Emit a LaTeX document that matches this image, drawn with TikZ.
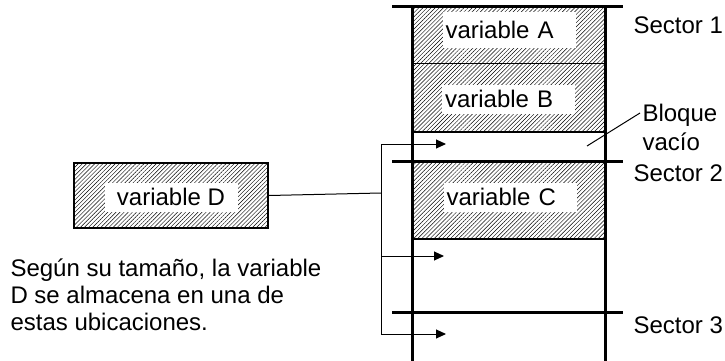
\documentclass[tikz,border=0pt]{standalone}
\usepackage{fontspec}
\setmainfont{Liberation Sans}
\usetikzlibrary{arrows.meta,patterns.meta}
\tikzset{
  >={Triangle[length=10pt,width=9pt]},
  hatch/.style={pattern={Lines[angle=45,distance=2.9pt,line width=0.45pt]}},
  blk/.style={hatch,inner sep=0pt,minimum width=193pt,anchor=north west},
  lbl/.style={fill=white,inner sep=0pt,minimum width=133pt,minimum height=29pt,font=\fontsize{24}{27}\selectfont},
  lblL/.style={lbl,text width=127pt,inner xsep=3pt,align=left},
  txt/.style={inner sep=0pt,font=\fontsize{24}{27}\selectfont,align=left},
  bnd/.style={line width=3pt},
  every picture/.style={line width=1pt},
}
\begin{document}
\begin{tikzpicture}[x=1pt,y=-1pt]
\useasboundingbox (0,0) rectangle (725,361);
% memory column
\node[blk,minimum height=125pt] (blkAB) at (412,7){}; \node[blk,minimum height=78pt] (blkC) at (412,161){};
\node[lblL,minimum height=36pt] (varA) at (509,30){variable A}; \node[lblL] (varB) at (508.5,99){variable B};
\node[lblL] (varC) at (510,197){variable C};
\draw (412,64)--(605,64); \draw[line width=2pt] (412,132)--(605,132); \draw[line width=2pt] (412,239)--(605,239);
\draw[bnd] (412,7)--(412,361); \draw[bnd] (605,7)--(605,361);
\draw[bnd] (392,7)--(623,7); \draw[bnd] (392,161)--(623,161); \draw[bnd] (392,312)--(623,312);
\node[txt,anchor=west] (sec1) at (633,25){Sector 1}; \node[txt,anchor=west] (sec2) at (633,173){Sector 2};
\node[txt,anchor=west] (sec3) at (633,325){Sector 3};
\node[txt,anchor=base west,font=\fontsize{24}{29}\selectfont] (empty) at (642,150){Bloque\\vacío};
\coordinate (lead) at (587,146); \draw (lead)--(640,113);
% variable D and its possible places
\node[hatch,draw,line width=2pt,minimum width=194pt,minimum height=65pt,inner sep=0pt] (boxD) at (171,195.5){};
\node[lbl] (varD) at (171,197){variable D};
\coordinate (jct) at (381,193); \coordinate (j1) at (381,144); \coordinate (j2) at (381,256); \coordinate (j3) at (381,334);
\coordinate (t1) at (446,144); \coordinate (t2) at (444,256); \coordinate (t3) at (446,334);
\draw (boxD.east)--(jct); \draw (j1)--(j3);
\draw[->] (j1)--(t1); \draw[->] (j2)--(t2); \draw[->] (j3)--(t3);
\node[txt,anchor=base west] (note) at (10,330){Según su tamaño, la variable\\D se almacena en una de\\estas ubicaciones.};
\end{tikzpicture}
\end{document}
